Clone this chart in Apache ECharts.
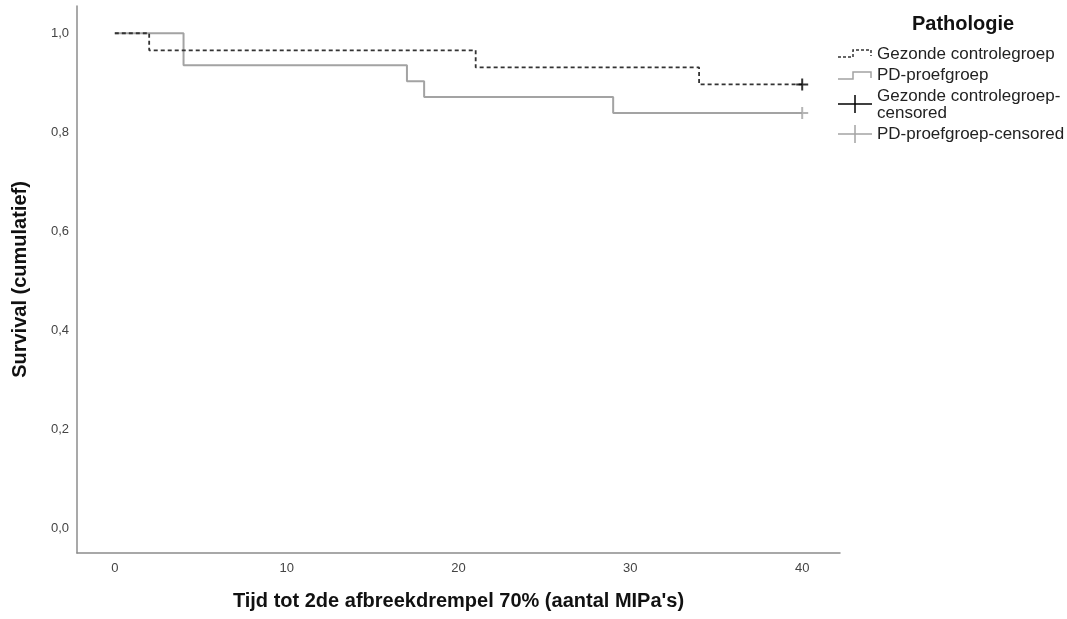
<!DOCTYPE html>
<html>
<head>
<meta charset="utf-8">
<script src="https://cdn.jsdelivr.net/npm/echarts@6/dist/echarts.min.js"></script>
<style>
html,body{margin:0;padding:0;background:#fff;}
#chart{width:1067px;height:619px;}
</style>
</head>
<body>
<div id="chart"></div>
<script>
// Kaplan-Meier step data (time, cumulative survival)
const controlTimes = [0, 2, 21, 34, 40];
const controlSurv  = [1.0, 0.9655, 0.931, 0.8966, 0.8966];
const pdTimes = [0, 4, 17, 18, 29, 40];
const pdSurv  = [1.0, 0.9355, 0.9032, 0.871, 0.8387, 0.8387];
const controlCensored = [[40, 0.8966]];
const pdCensored = [[40, 0.8387]];
const xTicks = [0, 10, 20, 30, 40];
const yTicks = [0, 0.2, 0.4, 0.6, 0.8, 1.0];
const legendTitle = 'Pathologie';
const legendNames = ['Gezonde controlegroep', 'PD-proefgroep', 'Gezonde controlegroep-\ncensored', 'PD-proefgroep-censored'];

const FONT = '"Liberation Sans", Arial, sans-serif';
const CTRL = '#333333';
const PD = '#a3a3a3';
const AXIS = '#8c8c8c';

const zip = (a, b) => a.map((v, i) => [v, b[i]]);
const plus = 'path://M0,-6L0,6M-6,0L6,0';

const chart = echarts.init(document.getElementById('chart'));
chart.setOption({
  animation: false,
  backgroundColor: '#fff',
  grid: {left: 77, top: 6, right: 227, bottom: 66, containLabel: false},
  xAxis: {
    type: 'value', min: -2.2, max: 42.2,
    name: 'Tijd tot 2de afbreekdrempel 70% (aantal MIPa\'s)',
    nameLocation: 'middle', nameGap: 38,
    nameTextStyle: {fontFamily: FONT, fontSize: 20, fontWeight: 'bold', color: '#111'},
    axisLine: {show: true, onZero: false, lineStyle: {color: AXIS, width: 1.5}},
    axisTick: {show: false},
    splitLine: {show: false},
    axisLabel: {customValues: xTicks, fontFamily: FONT, fontSize: 13, color: '#444', margin: 9}
  },
  yAxis: {
    type: 'value', min: -0.05, max: 1.055,
    name: 'Survival (cumulatief)',
    nameLocation: 'middle', nameGap: 47,
    nameTextStyle: {fontFamily: FONT, fontSize: 20, fontWeight: 'bold', color: '#111'},
    axisLine: {show: true, onZero: false, lineStyle: {color: AXIS, width: 1.5}},
    axisTick: {show: false},
    splitLine: {show: false},
    axisLabel: {customValues: yTicks, fontFamily: FONT, fontSize: 13, color: '#444', margin: 8,
      formatter: v => v.toFixed(1).replace('.', ',')}
  },
  series: [
    {type: 'line', step: 'end', data: zip(pdTimes, pdSurv), showSymbol: false, silent: true,
      lineStyle: {color: PD, width: 2}, z: 2},
    {type: 'line', step: 'end', data: zip(controlTimes, controlSurv), showSymbol: false, silent: true,
      lineStyle: {color: CTRL, width: 1.8, type: [4, 3]}, z: 3},
    {type: 'scatter', data: controlCensored, symbol: plus, symbolSize: 12, silent: true,
      itemStyle: {color: 'none', borderColor: '#000', borderWidth: 2}, z: 4},
    {type: 'scatter', data: pdCensored, symbol: plus, symbolSize: 12, silent: true,
      itemStyle: {color: 'none', borderColor: PD, borderWidth: 2}, z: 4}
  ],
  graphic: [
    {type: 'text', left: 912, top: 14, style: {text: legendTitle, font: 'bold 20px ' + FONT, fill: '#111'}},
    // control icon
    {type: 'polyline', shape: {points: [[838, 57], [853, 57], [853, 50], [871, 50], [871, 56]]},
      style: {stroke: CTRL, lineWidth: 1.5, lineDash: [3, 2], fill: null}},
    {type: 'polyline', shape: {points: [[838, 79], [853, 79], [853, 72], [871, 72], [871, 78]]},
      style: {stroke: PD, lineWidth: 1.5, fill: null}},
    {type: 'line', shape: {x1: 838, y1: 104, x2: 872, y2: 104}, style: {stroke: '#000', lineWidth: 1.5}},
    {type: 'line', shape: {x1: 855, y1: 95, x2: 855, y2: 113}, style: {stroke: '#000', lineWidth: 1.5}},
    {type: 'line', shape: {x1: 838, y1: 134, x2: 872, y2: 134}, style: {stroke: PD, lineWidth: 1.5}},
    {type: 'line', shape: {x1: 855, y1: 125, x2: 855, y2: 143}, style: {stroke: PD, lineWidth: 1.5}},
    {type: 'text', left: 877, top: 46, style: {text: legendNames[0], font: '17px ' + FONT, fill: '#222'}},
    {type: 'text', left: 877, top: 67, style: {text: legendNames[1], font: '17px ' + FONT, fill: '#222'}},
    {type: 'text', left: 877, top: 88, style: {text: legendNames[2], font: '17px ' + FONT, fill: '#222', lineHeight: 17}},
    {type: 'text', left: 877, top: 126, style: {text: legendNames[3], font: '17px ' + FONT, fill: '#222'}}
  ]
});
</script>
</body>
</html>
